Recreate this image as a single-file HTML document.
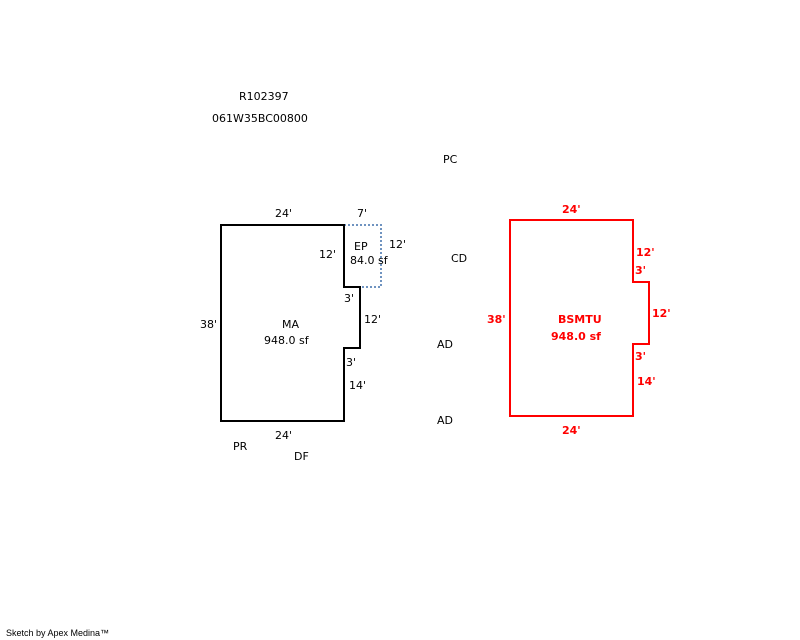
<!DOCTYPE html>
<html><head><style>
html,body{margin:0;padding:0;background:#fff;width:800px;height:640px;overflow:hidden}
svg text{font-family:"DejaVu Sans","Liberation Sans",sans-serif;font-size:11px;fill:#000}
svg text.r{fill:#f00;font-weight:bold}
</style></head><body>
<svg width="800" height="640" xmlns="http://www.w3.org/2000/svg">
<polyline points="344,225 381,225 381,287 344,287" fill="none" stroke="#6f93c0" stroke-width="2" stroke-dasharray="2,2"/>
<polygon points="221,225 344,225 344,287 360,287 360,348 344,348 344,421 221,421" fill="none" stroke="#000" stroke-width="2"/>
<polygon points="510,220 633,220 633,282 649,282 649,344 633,344 633,416 510,416" fill="none" stroke="#f00" stroke-width="2"/>
<text x="239" y="100">R102397</text>
<text x="212" y="122">061W35BC00800</text>
<text x="443" y="163">PC</text>
<text x="275" y="217">24'</text>
<text x="357" y="217">7'</text>
<text x="354" y="250">EP</text>
<text x="350" y="264">84.0 sf</text>
<text x="319" y="258">12'</text>
<text x="389" y="248">12'</text>
<text x="451" y="262">CD</text>
<text x="200" y="328">38'</text>
<text x="282" y="328">MA</text>
<text x="264" y="344">948.0 sf</text>
<text x="344" y="302">3'</text>
<text x="364" y="323">12'</text>
<text x="437" y="348">AD</text>
<text x="346" y="366">3'</text>
<text x="349" y="389">14'</text>
<text x="275" y="439">24'</text>
<text x="233" y="450">PR</text>
<text x="437" y="424">AD</text>
<text x="294" y="460">DF</text>
<text class="r" x="562" y="213">24'</text>
<text class="r" x="636" y="256">12'</text>
<text class="r" x="635" y="274">3'</text>
<text class="r" x="487" y="323">38'</text>
<text class="r" x="558" y="323">BSMTU</text>
<text class="r" x="551" y="340">948.0 sf</text>
<text class="r" x="652" y="317">12'</text>
<text class="r" x="635" y="360">3'</text>
<text class="r" x="637" y="385">14'</text>
<text class="r" x="562" y="434">24'</text>
<text x="6" y="636" style="font-family:'Liberation Sans',sans-serif;font-size:9px">Sketch by Apex Medina™</text>
</svg>
</body></html>
